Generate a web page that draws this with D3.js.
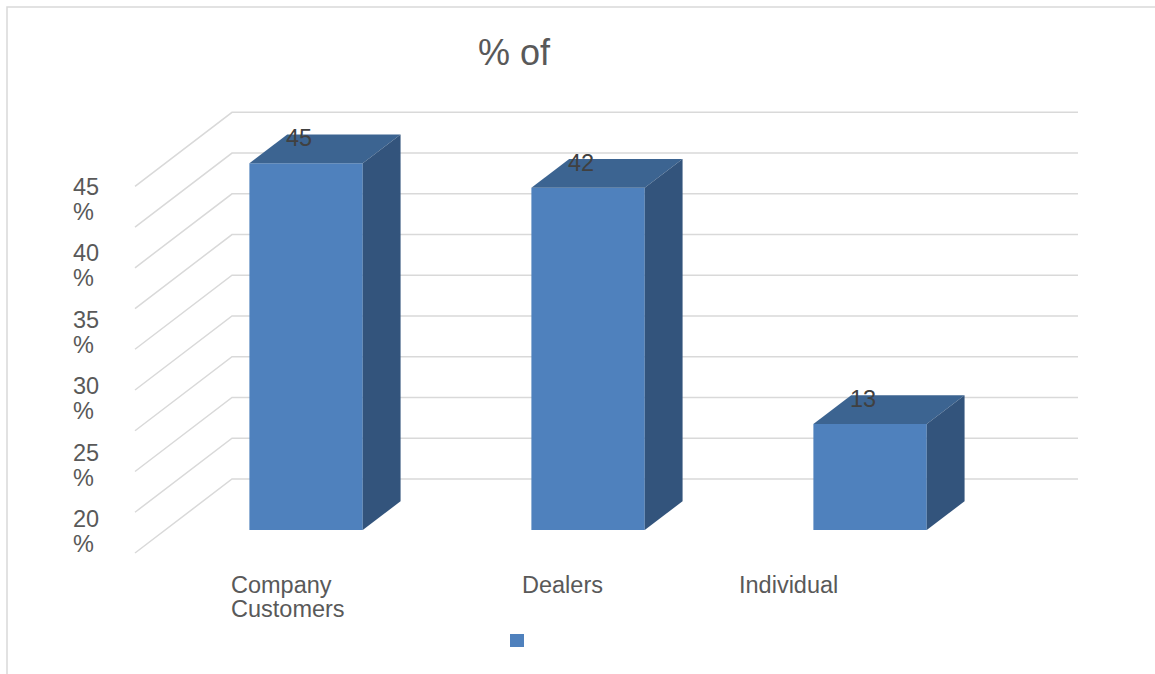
<!DOCTYPE html>
<html>
<head>
<meta charset="utf-8">
<script src="https://cdn.jsdelivr.net/npm/d3@7/dist/d3.min.js"></script>
<style>
  html, body { margin: 0; padding: 0; background: #ffffff; }
  svg { display: block; }
  text { font-family: "Liberation Sans", Arial, sans-serif; fill: #595959; }
</style>
</head>
<body>
<svg id="chart" width="1155" height="674"></svg>
<script>
// ---- data ----
const categories = ["Company Customers", "Dealers", "Individual"];
const values = [45, 42, 13];
const valueLabels = ["45", "42", "13"];
const gridValues = [0, 5, 10, 15, 20, 25, 30, 35, 40, 45];
const axisTickLabels = ["45", "40", "35", "30", "25", "20"];
const titleText = "% of";

// ---- layout ----
const W = 1155, H = 674;
const wallLeft = 232, wallRight = 1078;     // back wall, horizontal extent
const floorBackY = 479, topBackY = 112.3;   // back wall, value 0 and value 45
const depth = { dx: -97, dy: 74 };          // back wall -> front edge of floor
const barZ = [0.30, 0.69];                  // bar depth span (0 = back, 1 = front)
const barWidthRatio = 0.402;
const colors = { front: "#4f81bd", top: "#3c6491", side: "#33547c", grid: "#d9d9d9" };
const labelNudge = [-45, -36, -101];        // category label left-edge offsets
const fontSize = "23.5px";

const svg = d3.select("#chart");

const x = d3.scalePoint().domain(categories).range([wallLeft, wallRight]).padding(0.5);
const y = d3.scaleLinear().domain([0, 45]).range([floorBackY, topBackY]);
const barW = x.step() * barWidthRatio;

// project a point on the back plane (xb, value) forward by depth fraction z
const proj = (xb, v, z) => [xb + depth.dx * z, y(v) + depth.dy * z];

// chart area border (only top and left edges fall inside the view)
svg.append("rect")
  .attr("x", 7).attr("y", 7).attr("width", W + 20).attr("height", H + 20)
  .attr("fill", "none").attr("stroke", colors.grid).attr("stroke-width", 1.5);

// title
svg.append("text")
  .attr("x", 514).attr("y", 65)
  .attr("text-anchor", "middle")
  .style("font-size", "36px")
  .text(titleText);

// gridlines: back wall and side wall
const grid = svg.append("g").attr("stroke", colors.grid).attr("stroke-width", 1.5).attr("fill", "none");
grid.selectAll("path.grid")
  .data(gridValues)
  .join("path")
  .attr("class", "grid")
  .attr("d", v => {
    const a = proj(wallLeft, v, 1), b = proj(wallLeft, v, 0), c = proj(wallRight, v, 0);
    return `M${a[0]},${a[1]}L${b[0]},${b[1]}L${c[0]},${c[1]}`;
  });

// value axis labels (number with % wrapped below)
const tickY = d3.scalePoint().domain(axisTickLabels).range([195, 527]);
const ticks = svg.append("g").style("font-size", fontSize);
ticks.selectAll("text")
  .data(axisTickLabels)
  .join("text")
  .attr("x", 73)
  .attr("y", d => tickY(d))
  .each(function (d) {
    const t = d3.select(this);
    t.append("tspan").attr("x", 73).text(d);
    t.append("tspan").attr("x", 73).attr("dy", 25).text("%");
  });

// bars as 3D boxes
const poly = pts => "M" + pts.map(p => p.join(",")).join("L") + "Z";
const bars = svg.append("g");
categories.forEach((c, i) => {
  const v = values[i];
  const xl = x(c) - barW / 2, xr = x(c) + barW / 2;
  const [zb, zf] = barZ;
  const g = bars.append("g");
  // front
  g.append("path").attr("fill", colors.front)
    .attr("d", poly([proj(xl, 0, zf), proj(xl, v, zf), proj(xr, v, zf), proj(xr, 0, zf)]));
  // top
  g.append("path").attr("fill", colors.top)
    .attr("d", poly([proj(xl, v, zf), proj(xl, v, zb), proj(xr, v, zb), proj(xr, v, zf)]));
  // right side
  g.append("path").attr("fill", colors.side)
    .attr("d", poly([proj(xr, v, zf), proj(xr, v, zb), proj(xr, 0, zb), proj(xr, 0, zf)]));
  // value label
  const ft = proj(x(c), v, zf);
  g.append("text")
    .attr("x", ft[0] - 7).attr("y", ft[1] - 17)
    .attr("text-anchor", "middle")
    .style("font-size", fontSize)
    .style("fill", "#404040")
    .text(valueLabels[i]);
});

// category labels along the front edge of the floor, wrapped by words
const catG = svg.append("g").style("font-size", fontSize);
categories.forEach((c, i) => {
  const left = proj(x(c), 0, 1)[0] + labelNudge[i];
  const t = catG.append("text").attr("x", left).attr("y", 592.7);
  const words = c.split(" ");
  let line = [], tspan = t.append("tspan").attr("x", left);
  words.forEach(w => {
    line.push(w);
    tspan.text(line.join(" "));
    if (tspan.node().getComputedTextLength() > 150 && line.length > 1) {
      line.pop();
      tspan.text(line.join(" "));
      line = [w];
      tspan = t.append("tspan").attr("x", left).attr("dy", 24.6).text(w);
    }
  });
});

// legend (single series, unnamed)
svg.append("rect")
  .attr("x", 510).attr("y", 634).attr("width", 14).attr("height", 13)
  .attr("fill", colors.front);
</script>
</body>
</html>
